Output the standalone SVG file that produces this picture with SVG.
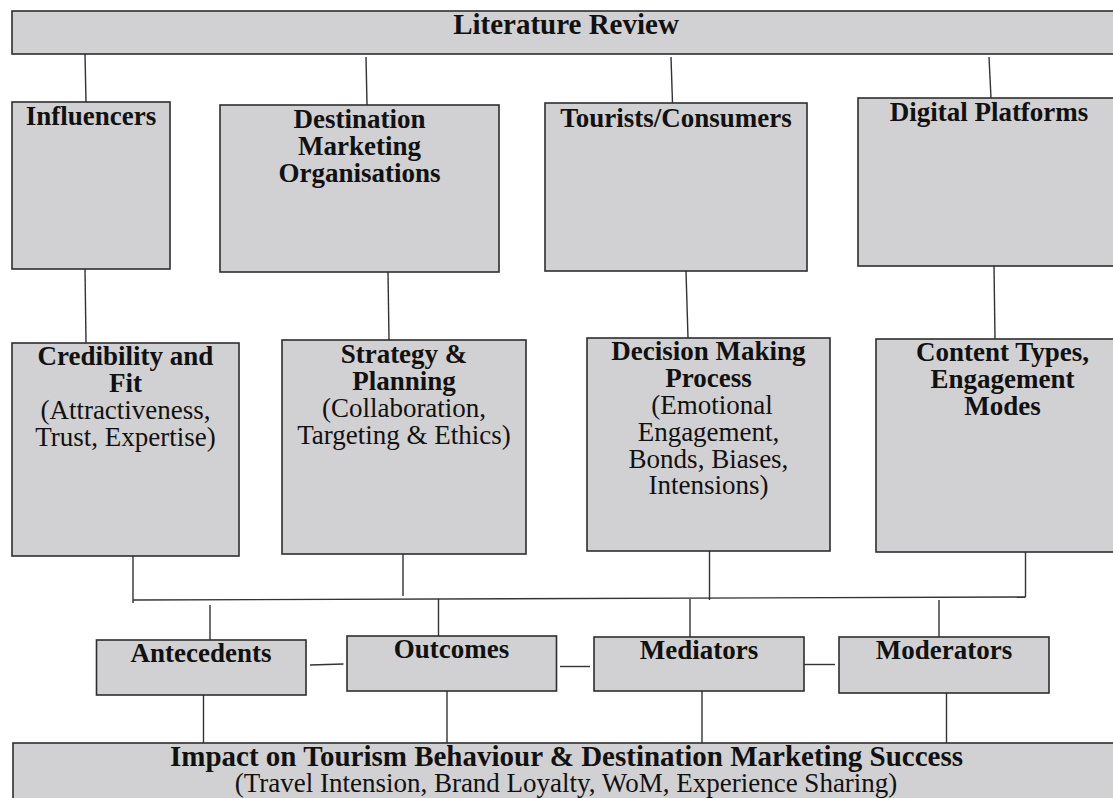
<svg xmlns="http://www.w3.org/2000/svg" width="1113" height="798" viewBox="0 0 1113 798">
  <style>
    .box { fill: #d1d0d2; stroke: #2e2e2e; stroke-width: 1.6; }
    .wire { fill: none; stroke: #333333; stroke-width: 1.4; stroke-linecap: butt; }
    text { font-family: "Liberation Serif", "Times New Roman", serif; fill: #111111; text-anchor: middle; }
    .h { font-weight: bold; font-size: 27px; }
    .big { font-weight: bold; font-size: 29px; }
    .r { font-size: 27px; }
  </style>
  <rect width="1113" height="798" fill="#ffffff"/>

  <!-- connectors -->
  <g id="connectors" class="wire">
    <!-- literature review to the four themes -->
    <line x1="85" y1="54" x2="86" y2="102"/>
    <line x1="366" y1="57" x2="367" y2="105"/>
    <line x1="671" y1="57" x2="672.5" y2="103"/>
    <line x1="989" y1="57" x2="991" y2="98"/>
    <!-- themes to their detail boxes -->
    <line x1="85" y1="269" x2="86" y2="343"/>
    <line x1="388" y1="272" x2="389" y2="340"/>
    <line x1="686" y1="271" x2="688" y2="338"/>
    <line x1="994" y1="266" x2="995" y2="339"/>
    <!-- detail boxes down to the shared bus -->
    <line x1="133" y1="556" x2="133" y2="603"/>
    <line x1="403" y1="554" x2="403" y2="596"/>
    <line x1="709.5" y1="551" x2="709.5" y2="600"/>
    <line x1="1025.5" y1="552" x2="1025.5" y2="597"/>
    <line x1="133" y1="600" x2="1025.5" y2="597"/>
    <!-- bus to the analysis categories -->
    <line x1="210" y1="605" x2="210" y2="640"/>
    <line x1="438.5" y1="599" x2="438.5" y2="636"/>
    <line x1="690" y1="599" x2="690" y2="637"/>
    <line x1="939" y1="600" x2="939" y2="637"/>
    <!-- links between the categories -->
    <line x1="310" y1="665" x2="343.5" y2="664"/>
    <line x1="560" y1="666.5" x2="590" y2="666.5"/>
    <line x1="804" y1="664.5" x2="835" y2="664.5"/>
    <!-- categories to the impact banner -->
    <line x1="203.5" y1="695" x2="203.5" y2="743"/>
    <line x1="447" y1="691" x2="447" y2="743"/>
    <line x1="702" y1="691" x2="702" y2="743"/>
    <line x1="946.5" y1="693" x2="946.5" y2="743"/>
  </g>

  <g id="literature-review">
    <rect class="box" x="12" y="11" width="1110" height="43"/>
    <text class="big" x="566" y="34">Literature Review</text>
  </g>

  <g id="influencers">
    <rect class="box" x="12" y="102" width="158" height="167"/>
    <text class="h" x="91" y="125">Influencers</text>
  </g>

  <g id="dmo">
    <rect class="box" x="220" y="105" width="279" height="167"/>
    <text class="h" x="359.5" y="128">Destination</text>
    <text class="h" x="359.5" y="155">Marketing</text>
    <text class="h" x="359.5" y="182">Organisations</text>
  </g>

  <g id="tourists">
    <rect class="box" x="545" y="103" width="262" height="168"/>
    <text class="h" x="676" y="127">Tourists/Consumers</text>
  </g>

  <g id="digital-platforms">
    <rect class="box" x="858" y="98" width="270" height="168"/>
    <text class="h" x="989" y="121">Digital Platforms</text>
  </g>

  <g id="credibility">
    <rect class="box" x="12" y="343" width="227" height="213"/>
    <text class="h" x="125.5" y="365">Credibility and</text>
    <text class="h" x="125.5" y="392">Fit</text>
    <text class="r" x="125.5" y="419">(Attractiveness,</text>
    <text class="r" x="125.5" y="446">Trust, Expertise)</text>
  </g>

  <g id="strategy">
    <rect class="box" x="282" y="340" width="244" height="214"/>
    <text class="h" x="404" y="363">Strategy &amp;</text>
    <text class="h" x="404" y="390">Planning</text>
    <text class="r" x="404" y="417">(Collaboration,</text>
    <text class="r" x="404" y="444">Targeting &amp; Ethics)</text>
  </g>

  <g id="decision">
    <rect class="box" x="587" y="338" width="243" height="213"/>
    <text class="h" x="708.5" y="360">Decision Making</text>
    <text class="h" x="708.5" y="387">Process</text>
    <text class="r" x="712" y="414">(Emotional</text>
    <text class="r" x="708.5" y="441">Engagement,</text>
    <text class="r" x="708.5" y="468">Bonds, Biases,</text>
    <text class="r" x="708.5" y="494">Intensions)</text>
  </g>

  <g id="content-types">
    <rect class="box" x="876" y="339" width="260" height="213"/>
    <text class="h" x="1002.5" y="361">Content Types,</text>
    <text class="h" x="1002.5" y="388">Engagement</text>
    <text class="h" x="1002.5" y="415">Modes</text>
  </g>

  <g id="antecedents">
    <rect class="box" x="96.5" y="640" width="209.5" height="55"/>
    <text class="h" x="201" y="662">Antecedents</text>
  </g>

  <g id="outcomes">
    <rect class="box" x="347" y="636" width="209.5" height="55"/>
    <text class="h" x="451.5" y="658">Outcomes</text>
  </g>

  <g id="mediators">
    <rect class="box" x="594" y="637" width="210" height="54"/>
    <text class="h" x="699" y="659">Mediators</text>
  </g>

  <g id="moderators">
    <rect class="box" x="839" y="637" width="210" height="56"/>
    <text class="h" x="944" y="659">Moderators</text>
  </g>

  <g id="impact">
    <rect class="box" x="13" y="743" width="1110" height="70"/>
    <text class="big" x="566.5" y="766">Impact on Tourism Behaviour &amp; Destination Marketing Success</text>
    <text class="r" x="566" y="792">(Travel Intension, Brand Loyalty, WoM, Experience Sharing)</text>
  </g>
</svg>
